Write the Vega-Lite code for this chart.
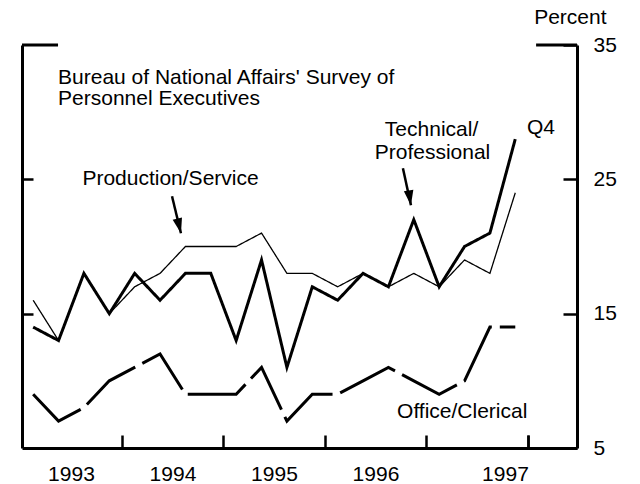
{
  "$schema": "https://vega.github.io/schema/vega-lite/v6.json",
  "width": 555,
  "height": 403,
  "autosize": {"type": "none"},
  "padding": {"left": 22, "top": 45, "right": 63, "bottom": 36},
  "background": "white",
  "config": {
    "view": {"stroke": null},
    "font": "Liberation Sans",
    "axis": {
      "grid": false,
      "domainColor": "black",
      "tickColor": "black",
      "labelColor": "black",
      "titleColor": "black",
      "labelFont": "Liberation Sans",
      "titleFont": "Liberation Sans",
      "labelFontSize": 21,
      "titleFontSize": 21,
      "titleFontWeight": "normal",
      "domainWidth": 3,
      "tickWidth": 2.5
    }
  },
  "datasets": {
    "series": [
      {"t": 1993.125, "s": "Technical/Professional", "v": 14},
      {"t": 1993.375, "s": "Technical/Professional", "v": 13},
      {"t": 1993.625, "s": "Technical/Professional", "v": 18},
      {"t": 1993.875, "s": "Technical/Professional", "v": 15},
      {"t": 1994.125, "s": "Technical/Professional", "v": 18},
      {"t": 1994.375, "s": "Technical/Professional", "v": 16},
      {"t": 1994.625, "s": "Technical/Professional", "v": 18},
      {"t": 1994.875, "s": "Technical/Professional", "v": 18},
      {"t": 1995.125, "s": "Technical/Professional", "v": 13},
      {"t": 1995.375, "s": "Technical/Professional", "v": 19},
      {"t": 1995.625, "s": "Technical/Professional", "v": 11},
      {"t": 1995.875, "s": "Technical/Professional", "v": 17},
      {"t": 1996.125, "s": "Technical/Professional", "v": 16},
      {"t": 1996.375, "s": "Technical/Professional", "v": 18},
      {"t": 1996.625, "s": "Technical/Professional", "v": 17},
      {"t": 1996.875, "s": "Technical/Professional", "v": 22},
      {"t": 1997.125, "s": "Technical/Professional", "v": 17},
      {"t": 1997.375, "s": "Technical/Professional", "v": 20},
      {"t": 1997.625, "s": "Technical/Professional", "v": 21},
      {"t": 1997.875, "s": "Technical/Professional", "v": 28},
      {"t": 1993.125, "s": "Production/Service", "v": 16},
      {"t": 1993.375, "s": "Production/Service", "v": 13},
      {"t": 1993.625, "s": "Production/Service", "v": 18},
      {"t": 1993.875, "s": "Production/Service", "v": 15},
      {"t": 1994.125, "s": "Production/Service", "v": 17},
      {"t": 1994.375, "s": "Production/Service", "v": 18},
      {"t": 1994.625, "s": "Production/Service", "v": 20},
      {"t": 1994.875, "s": "Production/Service", "v": 20},
      {"t": 1995.125, "s": "Production/Service", "v": 20},
      {"t": 1995.375, "s": "Production/Service", "v": 21},
      {"t": 1995.625, "s": "Production/Service", "v": 18},
      {"t": 1995.875, "s": "Production/Service", "v": 18},
      {"t": 1996.125, "s": "Production/Service", "v": 17},
      {"t": 1996.375, "s": "Production/Service", "v": 18},
      {"t": 1996.625, "s": "Production/Service", "v": 17},
      {"t": 1996.875, "s": "Production/Service", "v": 18},
      {"t": 1997.125, "s": "Production/Service", "v": 17},
      {"t": 1997.375, "s": "Production/Service", "v": 19},
      {"t": 1997.625, "s": "Production/Service", "v": 18},
      {"t": 1997.875, "s": "Production/Service", "v": 24},
      {"t": 1993.125, "s": "Office/Clerical", "v": 9},
      {"t": 1993.375, "s": "Office/Clerical", "v": 7},
      {"t": 1993.625, "s": "Office/Clerical", "v": 8},
      {"t": 1993.875, "s": "Office/Clerical", "v": 10},
      {"t": 1994.125, "s": "Office/Clerical", "v": 11},
      {"t": 1994.375, "s": "Office/Clerical", "v": 12},
      {"t": 1994.625, "s": "Office/Clerical", "v": 9},
      {"t": 1994.875, "s": "Office/Clerical", "v": 9},
      {"t": 1995.125, "s": "Office/Clerical", "v": 9},
      {"t": 1995.375, "s": "Office/Clerical", "v": 11},
      {"t": 1995.625, "s": "Office/Clerical", "v": 7},
      {"t": 1995.875, "s": "Office/Clerical", "v": 9},
      {"t": 1996.125, "s": "Office/Clerical", "v": 9},
      {"t": 1996.375, "s": "Office/Clerical", "v": 10},
      {"t": 1996.625, "s": "Office/Clerical", "v": 11},
      {"t": 1996.875, "s": "Office/Clerical", "v": 10},
      {"t": 1997.125, "s": "Office/Clerical", "v": 9},
      {"t": 1997.375, "s": "Office/Clerical", "v": 10},
      {"t": 1997.625, "s": "Office/Clerical", "v": 14},
      {"t": 1997.875, "s": "Office/Clerical", "v": 14}
    ],
    "frame": [
      {"x1": 1993.015, "x2": 1993.37, "y": 35},
      {"x1": 1998.08, "x2": 1998.483, "y": 35}
    ],
    "arrows": [
      {"name": "Production/Service", "x1": 1994.493, "y1": 23.74, "x2": 1994.581, "y2": 20.99},
      {"name": "Technical/Professional", "x1": 1996.768, "y1": 25.82, "x2": 1996.847, "y2": 23.07}
    ],
    "notes": [
      {"label": "Bureau of National Affairs' Survey of", "x": 1993.37, "y": 32.06},
      {"label": "Personnel Executives", "x": 1993.37, "y": 30.5},
      {"label": "Production/Service", "x": 1993.61, "y": 24.55},
      {"label": "Technical/", "x": 1996.59, "y": 28.2},
      {"label": "Professional", "x": 1996.49, "y": 26.55},
      {"label": "Q4", "x": 1997.99, "y": 28.4},
      {"label": "Office/Clerical", "x": 1996.71, "y": 7.23}
    ]
  },
  "resolve": {"axis": {"x": "independent", "y": "independent"}},
  "layer": [
    {
      "data": {"name": "series"},
      "mark": {"type": "line", "color": "black", "strokeJoin": "miter", "strokeCap": "butt"},
      "encoding": {
        "x": {
          "field": "t",
          "type": "quantitative",
          "scale": {"domain": [1993.015, 1998.483], "nice": false, "zero": false},
          "axis": {
            "orient": "bottom",
            "values": [1994, 1995, 1996, 1997, 1998],
            "tickSize": -13,
            "labelExpr": "datum.value < 1998 ? '' + (datum.value - 1) : ''",
            "labelOffset": -51,
            "labelPadding": 28,
            "labelBaseline": "top",
            "labelFlush": false,
            "labelOverlap": false,
            "title": null
          }
        },
        "y": {
          "field": "v",
          "type": "quantitative",
          "scale": {"domain": [5, 35], "nice": false, "zero": false},
          "axis": {
            "orient": "right",
            "values": [5, 15, 25, 35],
            "tickSize": -14,
            "labelPadding": 30,
            "labelBaseline": "middle",
            "labelFlush": false,
            "labelOverlap": false,
            "title": "Percent",
            "titleAngle": 0,
            "titleAlign": "right",
            "titleBaseline": "alphabetic",
            "titleX": 29,
            "titleY": -22
          }
        },
        "detail": {"field": "s"},
        "strokeWidth": {
          "field": "s",
          "scale": {"type": "ordinal", "domain": ["Technical/Professional", "Production/Service", "Office/Clerical"], "range": [3, 1.3, 3]},
          "legend": null
        },
        "strokeDash": {
          "field": "s",
          "scale": {"domain": ["Technical/Professional", "Production/Service", "Office/Clerical"], "range": [[1, 0], [1, 0], [62, 8]]},
          "legend": null
        }
      }
    },
    {
      "data": {"name": "frame"},
      "mark": {"type": "rule", "color": "black", "strokeWidth": 3},
      "encoding": {
        "x": {
          "field": "x1",
          "type": "quantitative",
          "axis": {
            "orient": "bottom",
            "values": [1998],
            "domain": false,
            "tickSize": -13,
            "labelExpr": "'1997'",
            "labelOffset": -23,
            "labelPadding": 28,
            "labelBaseline": "top",
            "labelFlush": false,
            "labelOverlap": false,
            "title": null
          }
        },
        "x2": {"field": "x2"},
        "y": {
          "field": "y",
          "type": "quantitative",
          "axis": {
            "orient": "left",
            "values": [15, 25],
            "tickSize": -11,
            "labels": false,
            "title": null
          }
        }
      }
    },
    {
      "data": {"name": "arrows"},
      "mark": {"type": "rule", "color": "black", "strokeWidth": 2.5},
      "encoding": {
        "x": {"field": "x1", "type": "quantitative", "axis": null},
        "x2": {"field": "x2"},
        "y": {"field": "y1", "type": "quantitative", "axis": null},
        "y2": {"field": "y2"}
      }
    },
    {
      "data": {"name": "arrows"},
      "transform": [{"filter": "datum.name == 'Production/Service'"}],
      "mark": {"type": "point", "shape": "M0,0L-0.32,-1L0.32,-1Z", "filled": true, "color": "black", "opacity": 1, "size": 900, "angle": 346},
      "encoding": {
        "x": {"field": "x2", "type": "quantitative", "axis": null},
        "y": {"field": "y2", "type": "quantitative", "axis": null}
      }
    },
    {
      "data": {"name": "arrows"},
      "transform": [{"filter": "datum.name == 'Technical/Professional'"}],
      "mark": {"type": "point", "shape": "M0,0L-0.32,-1L0.32,-1Z", "filled": true, "color": "black", "opacity": 1, "size": 900, "angle": 351},
      "encoding": {
        "x": {"field": "x2", "type": "quantitative", "axis": null},
        "y": {"field": "y2", "type": "quantitative", "axis": null}
      }
    },
    {
      "data": {"name": "notes"},
      "mark": {"type": "text", "align": "left", "baseline": "alphabetic", "font": "Liberation Sans", "fontSize": 21, "color": "black"},
      "encoding": {
        "x": {"field": "x", "type": "quantitative", "axis": null},
        "y": {"field": "y", "type": "quantitative", "axis": null},
        "text": {"field": "label"}
      }
    }
  ]
}
